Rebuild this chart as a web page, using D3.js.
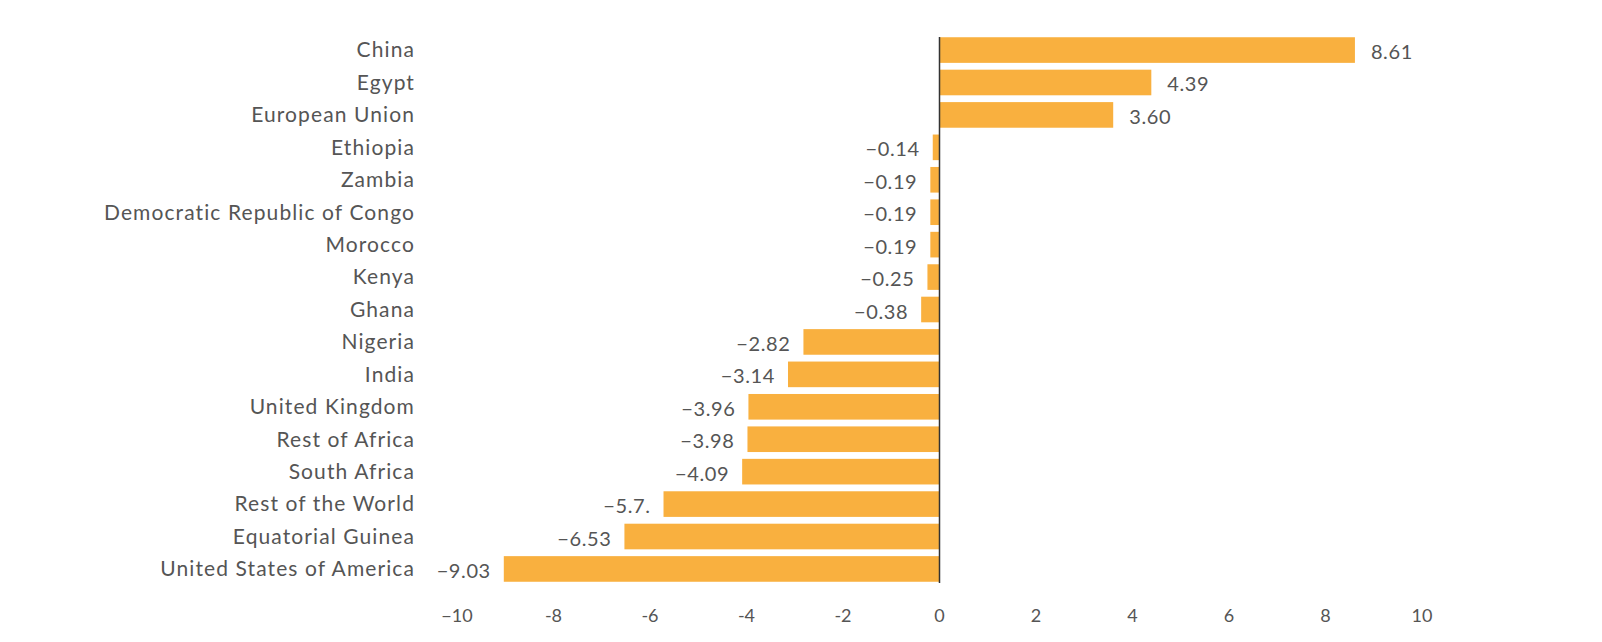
<!DOCTYPE html>
<html><head><meta charset="utf-8">
<script src="https://cdn.jsdelivr.net/npm/d3@7"></script>
<style>body{margin:0;background:#fff;} text{font-family:Lato,"Open Sans",sans-serif;}</style>
</head><body>
<svg id="c" width="1602" height="642"></svg>
<script>
const categories = ["China","Egypt","European Union","Ethiopia","Zambia","Democratic Republic of Congo","Morocco","Kenya","Ghana","Nigeria","India","United Kingdom","Rest of Africa","South Africa","Rest of the World","Equatorial Guinea","United States of America"];
const values = [8.61,4.39,3.60,-0.14,-0.19,-0.19,-0.19,-0.25,-0.38,-2.82,-3.14,-3.96,-3.98,-4.09,-5.72,-6.53,-9.03];
const valueLabels = ["8.61","4.39","3.60","−0.14","−0.19","−0.19","−0.19","−0.25","−0.38","−2.82","−3.14","−3.96","−3.98","−4.09","−5.7.","−6.53","−9.03"];
const tickValues = [-10,-8,-6,-4,-2,0,2,4,6,8,10];
const tickLabels = ["−10","-8","-6","-4","-2","0","2","4","6","8","10"];

const svg = d3.select("#c");
const x = d3.scaleLinear().domain([-10,10]).range([457,1422]);
const y = d3.scaleBand().domain(categories).range([34,585]).paddingInner(0.21).paddingOuter(0.1);
const color = "#F9B03F", txt = "#555";

svg.selectAll("rect.bar").data(values).join("rect").attr("class","bar")
  .attr("x", d => x(Math.min(0,d))).attr("width", d => Math.abs(x(d)-x(0)))
  .attr("y", (d,i) => y(categories[i])).attr("height", y.bandwidth()).attr("fill", color);

svg.append("line").attr("x1", x(0)).attr("x2", x(0)).attr("y1", y.range()[0]+3).attr("y2", y.range()[1]-2)
  .attr("stroke", "#333").attr("stroke-width", 1.5);

svg.selectAll("text.cat").data(categories).join("text").attr("class","cat")
  .attr("x", 415).attr("y", d => y(d)+y.bandwidth()/2).attr("dy","0.35em")
  .attr("text-anchor","end").attr("fill", txt).attr("font-size", 21).attr("letter-spacing", 1.1).text(d => d);

svg.selectAll("text.val").data(values).join("text").attr("class","val")
  .attr("x", d => d >= 0 ? x(d)+16 : x(d)-13)
  .attr("y", (d,i) => y(categories[i])+y.bandwidth()/2).attr("dy","0.45em")
  .attr("text-anchor", d => d >= 0 ? "start" : "end").attr("fill", txt).attr("font-size", 20).attr("letter-spacing", 0.6)
  .text((d,i) => valueLabels[i]);

svg.selectAll("text.tick").data(tickValues).join("text").attr("class","tick")
  .attr("x", d => x(d)).attr("y", 616).attr("dy","0.35em").attr("text-anchor","middle")
  .attr("fill", txt).attr("font-size", 18).text((d,i) => tickLabels[i]);
</script>
</body></html>
